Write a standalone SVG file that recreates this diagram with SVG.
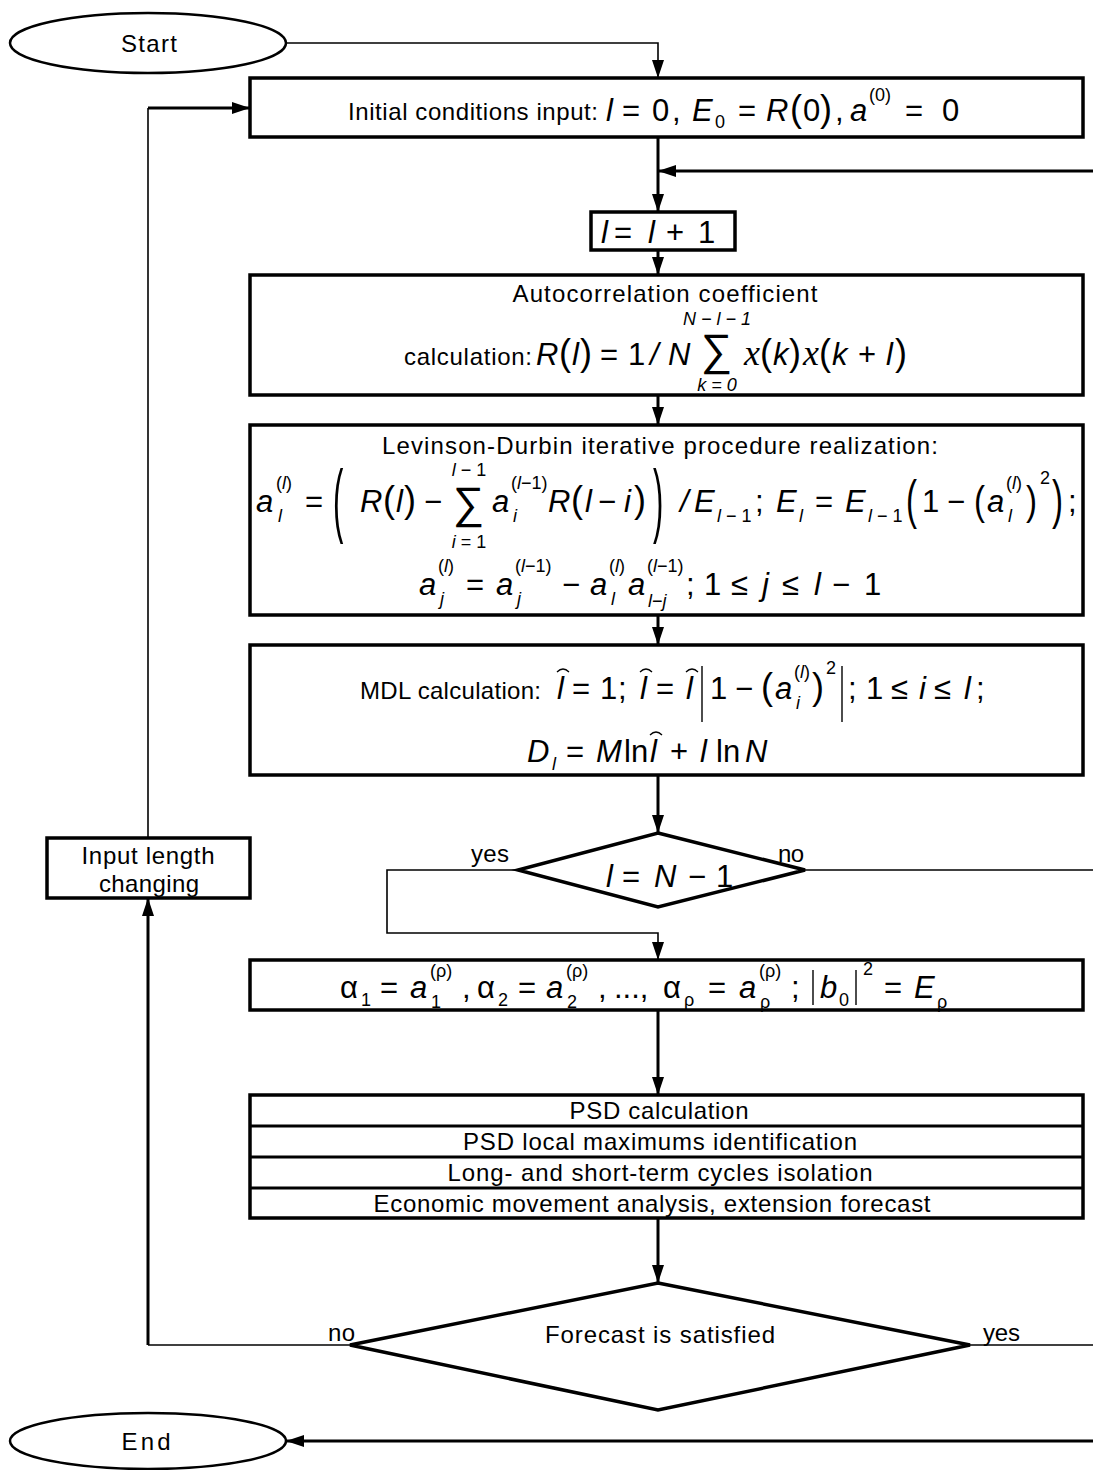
<svg xmlns="http://www.w3.org/2000/svg" width="1093" height="1470" viewBox="0 0 1093 1470">
<style>
.box{fill:#fff;stroke:#000;stroke-width:3.5}
.term{fill:#fff;stroke:#000;stroke-width:2.5}
.thin{fill:none;stroke:#000;stroke-width:1.6}
.thick{fill:none;stroke:#000;stroke-width:3}
.t{font-family:"Liberation Sans",Arial,sans-serif;font-size:24px;fill:#000}
.c{text-anchor:middle}
.m{font-family:"Liberation Sans",Arial,sans-serif;font-size:31px;font-style:italic;fill:#000}
.u{font-style:normal}
.s{font-size:18px}
.p{font-size:36px;font-style:normal}
.sig{font-size:44px;font-style:normal}
.xv{font-family:"Liberation Serif","Times New Roman",serif;font-size:36px;font-style:italic}
.acc{fill:none;stroke:#000;stroke-width:1.3}
.bar{stroke:#000;stroke-width:1.4}
</style>
<defs>
<marker id="arr" viewBox="0 0 18 12" refX="18" refY="6" markerWidth="18" markerHeight="12" markerUnits="userSpaceOnUse" orient="auto">
<path d="M0,0 L18,6 L0,12 z" fill="#000"/>
</marker>
</defs>

<!-- connectors -->
<g id="connectors">
<path class="thin" d="M286,43 H658 V78" marker-end="url(#arr)"/>
<path class="thin" d="M148,838 V108"/>
<path class="thick" d="M148,108 H250" marker-end="url(#arr)"/>
<path class="thick" d="M658,137 V212" marker-end="url(#arr)"/>
<path class="thick" d="M1093,171 H658" marker-end="url(#arr)"/>
<path class="thick" d="M658,250 V275" marker-end="url(#arr)"/>
<path class="thick" d="M658,395 V425" marker-end="url(#arr)"/>
<path class="thick" d="M658,615 V645" marker-end="url(#arr)"/>
<path class="thick" d="M658,775 V833" marker-end="url(#arr)"/>
<path class="thin" d="M518,870 H387 V933 H658 V960" marker-end="url(#arr)"/>
<path class="thin" d="M805,870 H1093"/>
<path class="thick" d="M658,1010 V1095" marker-end="url(#arr)"/>
<path class="thick" d="M658,1218 V1283" marker-end="url(#arr)"/>
<path class="thin" d="M350,1345 H148"/>
<path class="thick" d="M148,1345 V898" marker-end="url(#arr)"/>
<path class="thin" d="M970,1345 H1093"/>
<path class="thick" d="M1093,1441 H286" marker-end="url(#arr)"/>
<text class="t" x="471" y="862" textLength="38">yes</text>
<text class="t" x="778" y="862" textLength="26">no</text>
<text class="t" x="328" y="1341" textLength="27">no</text>
<text class="t" x="983" y="1341" textLength="37">yes</text>
</g>

<!-- terminals -->
<g id="start">
<ellipse class="term" cx="148" cy="43" rx="138" ry="30"/>
<text class="t c" x="149" y="52" textLength="56">Start</text>
</g>
<g id="end">
<ellipse class="term" cx="148" cy="1441" rx="138" ry="28"/>
<text class="t c" x="146" y="1450" textLength="49">End</text>
</g>

<!-- initial conditions -->
<g id="init">
<rect class="box" x="250" y="78" width="833" height="59"/>
<text class="t" x="348" y="120" textLength="250">Initial conditions input:</text>
<text class="m" y="121">
<tspan x="606">l</tspan><tspan class="u" x="622">=</tspan><tspan class="u" x="652">0</tspan><tspan class="u" x="672">,</tspan>
<tspan x="692">E</tspan><tspan class="u s" x="715" y="128">0</tspan><tspan class="u" x="738" y="121">=</tspan>
<tspan x="766">R</tspan><tspan class="p" x="790">(</tspan><tspan class="u" x="803">0</tspan><tspan class="p" x="820">)</tspan><tspan class="u" x="835">,</tspan>
<tspan x="850">a</tspan><tspan class="u s" x="869" y="101">(0)</tspan><tspan class="u" x="905" y="121">=</tspan><tspan class="u" x="942">0</tspan>
</text>
</g>

<!-- counter increment -->
<g id="increment">
<rect class="box" x="591" y="212" width="144" height="38"/>
<text class="m" y="243"><tspan x="601">l</tspan><tspan class="u" x="614">=</tspan><tspan x="648">l</tspan><tspan class="u" x="666">+</tspan><tspan class="u" x="698">1</tspan></text>
</g>

<!-- autocorrelation -->
<g id="autocorr">
<rect class="box" x="250" y="275" width="833" height="120"/>
<text class="t c" x="665" y="302" textLength="305">Autocorrelation coefficient</text>
<text class="t" x="404" y="365" textLength="128">calculation:</text>
<text class="m" y="365">
<tspan x="536">R</tspan><tspan class="p" x="559">(</tspan><tspan x="572">l</tspan><tspan class="p" x="580">)</tspan>
<tspan class="u" x="600">=</tspan><tspan class="u" x="628">1</tspan><tspan x="650">/</tspan><tspan x="668">N</tspan>
<tspan class="sig" x="701" y="365">∑</tspan>
<tspan class="xv" x="744" y="365">x</tspan><tspan class="p" x="760">(</tspan><tspan x="773">k</tspan><tspan class="p" x="789">)</tspan>
<tspan class="xv" x="803">x</tspan><tspan class="p" x="819">(</tspan><tspan x="832">k</tspan><tspan class="u" x="858">+</tspan><tspan x="886">l</tspan><tspan class="p" x="895">)</tspan>
</text>
<text class="m s c" x="717" y="325">N − l − 1</text>
<text class="m s c" x="717" y="391">k = 0</text>
</g>

<!-- Levinson-Durbin recursion -->
<g id="levinson">
<rect class="box" x="250" y="425" width="833" height="190"/>
<text class="t c" x="660" y="454" textLength="556">Levinson-Durbin iterative procedure realization:</text>
<text class="m" y="512">
<tspan x="256">a</tspan><tspan class="s" x="276" y="489"><tspan class="u">(</tspan>l<tspan class="u">)</tspan></tspan><tspan class="s" x="278" y="522">l</tspan>
<tspan class="u" x="305" y="512">=</tspan>
<tspan x="360">R</tspan><tspan class="p" x="383">(</tspan><tspan x="396">l</tspan><tspan class="p" x="404">)</tspan><tspan class="u" x="424">−</tspan>
<tspan class="sig" x="453" y="518">∑</tspan>
<tspan x="492" y="512">a</tspan><tspan class="s" x="511" y="489"><tspan class="u">(</tspan>l<tspan class="u">−1)</tspan></tspan><tspan class="s" x="513" y="522">i</tspan>
<tspan x="548" y="512">R</tspan><tspan class="p" x="571">(</tspan><tspan x="585">l</tspan><tspan class="u" x="598">−</tspan><tspan x="624">i</tspan><tspan class="p" x="634">)</tspan>
<tspan x="680">/</tspan><tspan x="694">E</tspan><tspan class="s" x="717" y="522">l<tspan class="u"> − 1</tspan></tspan><tspan class="u" x="755" y="512">;</tspan>
<tspan x="776">E</tspan><tspan class="s" x="799" y="522">l</tspan><tspan class="u" x="815" y="512">=</tspan>
<tspan x="845">E</tspan><tspan class="s" x="868" y="522">l<tspan class="u"> − 1</tspan></tspan>
<tspan class="u" x="922" y="512">1</tspan><tspan class="u" x="947">−</tspan>
<tspan x="987">a</tspan><tspan class="s" x="1006" y="489"><tspan class="u">(</tspan>l<tspan class="u">)</tspan></tspan><tspan class="s" x="1008" y="522">l</tspan>
<tspan class="u s" x="1040" y="484">2</tspan><tspan class="u" x="1068" y="512">;</tspan>
</text>
<text class="m s c" x="469" y="476">l<tspan class="u"> − 1</tspan></text>
<text class="m s c" x="469" y="548">i<tspan class="u"> = 1</tspan></text>
<text class="m u" transform="translate(333,527) scale(1,2.6)" style="font-size:31px">(</text>
<text class="m u" transform="translate(653,527) scale(1,2.6)" style="font-size:31px">)</text>
<text class="m u" transform="translate(906,518) scale(1,1.6)" style="font-size:33px">(</text>
<text class="m u" transform="translate(1052,518) scale(1,1.6)" style="font-size:33px">)</text>
<text class="m u" transform="translate(974,515) scale(1,1.25)" style="font-size:33px">(</text>
<text class="m u" transform="translate(1026,515) scale(1,1.25)" style="font-size:33px">)</text>
<text class="m" y="595">
<tspan x="419">a</tspan><tspan class="s" x="438" y="572"><tspan class="u">(</tspan>l<tspan class="u">)</tspan></tspan><tspan class="s" x="440" y="605">j</tspan>
<tspan class="u" x="466" y="595">=</tspan>
<tspan x="496">a</tspan><tspan class="s" x="515" y="572"><tspan class="u">(</tspan>l<tspan class="u">−1)</tspan></tspan><tspan class="s" x="517" y="605">j</tspan>
<tspan class="u" x="562" y="595">−</tspan>
<tspan x="590">a</tspan><tspan class="s" x="609" y="572"><tspan class="u">(</tspan>l<tspan class="u">)</tspan></tspan><tspan class="s" x="611" y="605">l</tspan>
<tspan x="628" y="595">a</tspan><tspan class="s" x="647" y="572"><tspan class="u">(</tspan>l<tspan class="u">−1)</tspan></tspan><tspan class="s" x="648" y="607">l<tspan class="u">−</tspan>j</tspan>
<tspan class="u" x="686" y="595">;</tspan>
<tspan class="u" x="704">1</tspan><tspan class="u" x="731">≤</tspan><tspan x="762">j</tspan><tspan class="u" x="782">≤</tspan><tspan x="814">l</tspan><tspan class="u" x="832">−</tspan><tspan class="u" x="864">1</tspan>
</text>
</g>

<!-- MDL criterion -->
<g id="mdl">
<rect class="box" x="250" y="645" width="833" height="130"/>
<text class="t" x="360" y="699" textLength="181">MDL calculation:</text>
<text class="m" y="699">
<tspan x="557">l</tspan><tspan class="u" x="572">=</tspan><tspan class="u" x="600">1</tspan><tspan class="u" x="618">;</tspan>
<tspan x="640">l</tspan><tspan class="u" x="656">=</tspan><tspan x="686">l</tspan>
<tspan class="u" x="710">1</tspan><tspan class="u" x="735">−</tspan><tspan class="p" x="761">(</tspan>
<tspan x="775">a</tspan><tspan class="s" x="794" y="678"><tspan class="u">(</tspan>l<tspan class="u">)</tspan></tspan><tspan class="s" x="796" y="709">i</tspan>
<tspan class="p" x="812" y="699">)</tspan><tspan class="u s" x="826" y="674">2</tspan>
<tspan class="u" x="848" y="699">;</tspan>
<tspan class="u" x="866">1</tspan><tspan class="u" x="891">≤</tspan><tspan x="919">i</tspan><tspan class="u" x="934">≤</tspan><tspan x="964">l</tspan><tspan class="u" x="976">;</tspan>
</text>
<path class="acc" d="M557,672 q6,-6 12,0 M640,672 q6,-6 12,0 M686,672 q6,-6 12,0"/>
<line class="bar" x1="702" y1="666" x2="702" y2="722"/>
<line class="bar" x1="842" y1="666" x2="842" y2="722"/>
<text class="m" y="762">
<tspan x="527">D</tspan><tspan class="s" x="552" y="770">l</tspan><tspan class="u" x="566" y="762">=</tspan>
<tspan x="596">M</tspan><tspan class="u" x="624">ln</tspan><tspan x="650">l</tspan>
<tspan class="u" x="670">+</tspan><tspan x="700">l</tspan><tspan class="u" x="716">ln</tspan><tspan x="745">N</tspan>
</text>
<path class="acc" d="M650,735 q6,-6 12,0"/>
</g>

<!-- length test -->
<g id="test-length">
<polygon class="box" points="658,833 805,870 658,907 518,870"/>
<text class="m" y="887"><tspan x="606">l</tspan><tspan class="u" x="622">=</tspan><tspan x="654">N</tspan><tspan class="u" x="688">−</tspan><tspan class="u" x="716">1</tspan></text>
</g>

<!-- model coefficients -->
<g id="coefficients">
<rect class="box" x="250" y="960" width="833" height="50"/>
<text class="m" y="998">
<tspan class="u" x="340">α</tspan><tspan class="u s" x="361" y="1006">1</tspan><tspan class="u" x="380" y="998">=</tspan>
<tspan x="410">a</tspan><tspan class="u s" x="430" y="977">(ρ)</tspan><tspan class="u s" x="431" y="1008">1</tspan><tspan class="u" x="462" y="998">,</tspan>
<tspan class="u" x="477">α</tspan><tspan class="u s" x="498" y="1006">2</tspan><tspan class="u" x="518" y="998">=</tspan>
<tspan x="546">a</tspan><tspan class="u s" x="566" y="977">(ρ)</tspan><tspan class="u s" x="567" y="1008">2</tspan><tspan class="u" x="598" y="998">,</tspan>
<tspan class="u" x="614">...,</tspan>
<tspan class="u" x="663">α</tspan><tspan class="u s" x="684" y="1006">ρ</tspan><tspan class="u" x="708" y="998">=</tspan>
<tspan x="739">a</tspan><tspan class="u s" x="759" y="977">(ρ)</tspan><tspan class="u s" x="760" y="1008">ρ</tspan><tspan class="u" x="791" y="998">;</tspan>
<tspan x="820">b</tspan><tspan class="u s" x="839" y="1006">0</tspan><tspan class="u s" x="863" y="975">2</tspan>
<tspan class="u" x="884" y="998">=</tspan><tspan x="914">E</tspan><tspan class="u s" x="937" y="1008">ρ</tspan>
</text>
<line class="bar" x1="813" y1="970" x2="813" y2="1005"/>
<line class="bar" x1="856" y1="970" x2="856" y2="1005"/>
</g>

<!-- spectral analysis steps -->
<g id="spectral">
<rect class="box" x="250" y="1095" width="833" height="123"/>
<path class="thick" d="M250,1126 H1083 M250,1157 H1083 M250,1188 H1083"/>
<text class="t c" x="659" y="1119" textLength="179">PSD calculation</text>
<text class="t c" x="660" y="1150" textLength="394">PSD local maximums identification</text>
<text class="t c" x="660" y="1181" textLength="425">Long- and short-term cycles isolation</text>
<text class="t c" x="652" y="1212" textLength="557">Economic movement analysis, extension forecast</text>
</g>

<!-- forecast test -->
<g id="test-forecast">
<polygon class="box" points="658,1283 970,1345 658,1410 350,1345"/>
<text class="t c" x="660" y="1343" textLength="230">Forecast is satisfied</text>
</g>

<!-- input length -->
<g id="input-length">
<rect class="box" x="47" y="838" width="203" height="60"/>
<text class="t c" x="148" y="864" textLength="133">Input length</text>
<text class="t c" x="149" y="892" textLength="100">changing</text>
</g>
</svg>
